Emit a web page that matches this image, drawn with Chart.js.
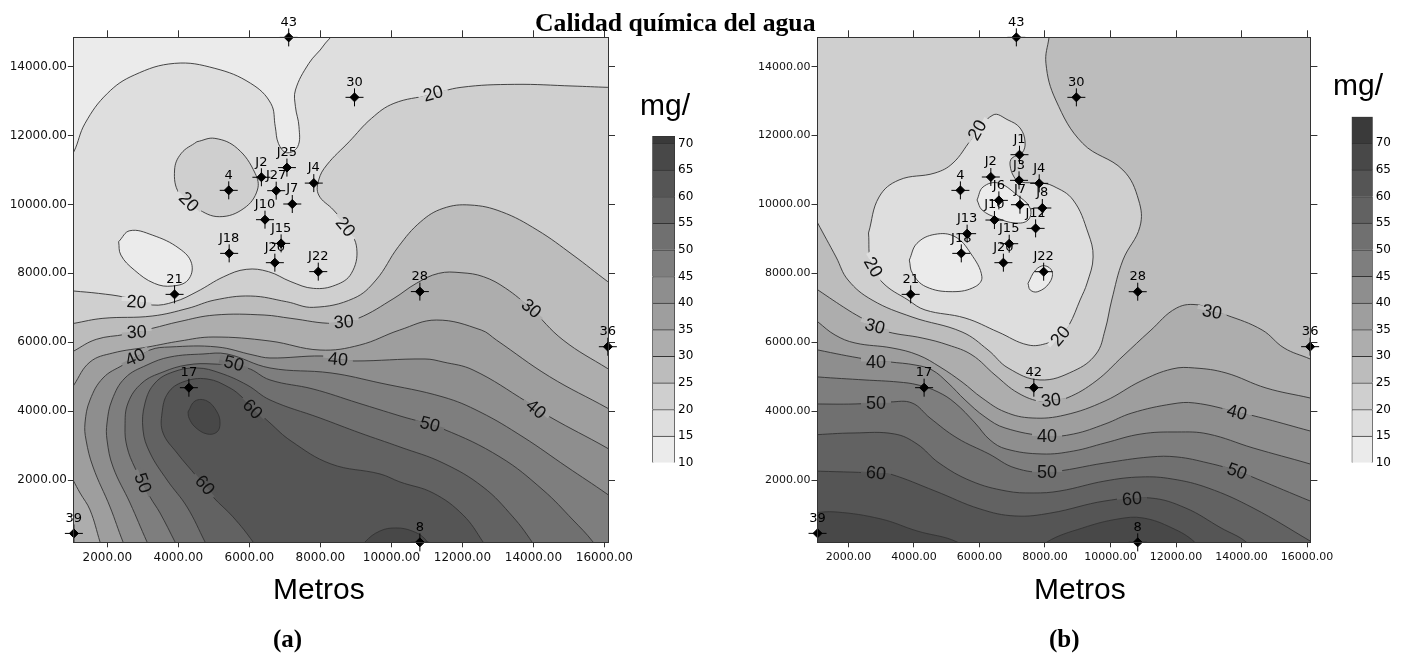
<!DOCTYPE html>
<html>
<head>
<meta charset="utf-8">
<title>Calidad química del agua</title>
<script src="https://cdn.jsdelivr.net/npm/chart.js@4"></script>
<style>
    html, body { margin: 0; padding: 0; background: #fff; }
    body { width: 1404px; height: 662px; position: relative; overflow: hidden; }
    canvas { position: absolute; top: 0; }
    .txt { position: absolute; white-space: nowrap; color: #000; line-height: 1; }
    .sans { font-family: "Liberation Sans", Arial, sans-serif; font-size: 30px; }
    .serif { font-family: "Liberation Serif", "Times New Roman", serif; font-weight: bold; }
</style>
</head>
<body>
<canvas id="mapA" width="702" height="662" style="left:0"></canvas>
<canvas id="mapB" width="702" height="662" style="left:702px"></canvas>
<canvas id="barA" width="60" height="350" style="left:640px;top:125px"></canvas>
<canvas id="barB" width="60" height="375" style="left:1340px;top:100px"></canvas>

<div class="txt serif" style="left:535px;top:10px;font-size:25.7px">Calidad química del agua</div>
<div class="txt sans" style="left:273px;top:574px">Metros</div>
<div class="txt sans" style="left:1034px;top:574px">Metros</div>
<div class="txt sans" style="left:640px;top:90px">mg/</div>
<div class="txt sans" style="left:1333px;top:70px">mg/</div>
<div class="txt serif" style="left:273px;top:626px;font-size:25px">(a)</div>
<div class="txt serif" style="left:1049px;top:626px;font-size:25px">(b)</div>

<script>
// Axis ranges and ticks (metres)
const xMin = 1056, xMax = 16102, yMin = 192, yMax = 14853;
const xTicks = [2000, 4000, 6000, 8000, 10000, 12000, 14000, 16000];
const yTicks = [2000, 4000, 6000, 8000, 10000, 12000, 14000];

// Legend
const barTicks = [10, 15, 20, 25, 30, 35, 40, 45, 50, 55, 60, 65, 70];
const barTopA = 71.4;
const barTopB = 75;

// Grey of each 5 mg band, 10-15 first
const bandGrey = ['#ebebeb', '#dedede', '#cfcfcf', '#bcbcbc', '#adadad', '#9e9e9e', '#8e8e8e',
    '#7e7e7e', '#707070', '#626262', '#555555', '#484848', '#3a3a3a'];

// Panel (a) contours. Open lines run a little past the frame.
const a15top = [[865,11290],[1055,11532],[1370,12355],[2000,13225],[2757,13758],[3892,14096],[5027,13951],[6036,13516],[6603,12935],[6729,12258],[6817,11774],[7044,11503],[7360,11677],[7397,12258],[7297,12838],[7297,13322],[7675,14096],[8102,14630],[8300,15060]];
const a15hole = [[2316,8919],[2631,9238],[3261,9113],[4018,8726],[4371,8290],[4270,7806],[3829,7632],[3324,7709],[2757,8097],[2379,8532],[2316,8919]];
const a20blob = [[4522,11822],[5027,11919],[5657,11629],[6162,10903],[6225,10419],[5846,9887],[5153,9645],[4522,9887],[4018,10322],[3892,11000],[4081,11484],[4522,11822]];
const a20 = [[16313,13400],[16098,13400],[15115,13438],[13476,13487],[11962,13400],[11080,13177],[10071,12935],[9440,12500],[8810,11822],[8179,11145],[7952,10709],[7952,10274],[8368,9839],[8747,9354],[9024,8726],[8873,8000],[8432,7661],[7801,7564],[7170,7758],[6540,8048],[5910,8116],[5279,7903],[4522,7468],[3892,7177],[3261,7081],[2505,7303],[1748,7419],[1055,7487],[802,7516]];
const a25 = [[16313,7613],[16098,7758],[15115,8532],[14106,9258],[13097,9790],[12215,9984],[11458,9887],[10827,9500],[10197,8774],[9566,7806],[8936,7274],[7801,7013],[7044,7177],[6036,7342],[5027,7226],[4270,6984],[3261,6761],[1874,6694],[1055,6548],[802,6500]];
const a30 = [[16313,5116],[16098,5232],[14837,6064],[13917,6984],[13223,7564],[12593,7903],[11962,8019],[11332,8000],[10701,7709],[10071,7274],[9062,6693],[8368,6548],[7170,6693],[6414,6790],[5027,6790],[4018,6597],[3261,6403],[2505,6229],[1685,6084],[1055,5745],[802,5580]];
const a35 = [[16313,3935],[16098,4081],[14459,5000],[12958,6064],[12530,6355],[11269,6645],[10235,6355],[9112,5919],[7990,5774],[6578,6035],[4976,6152],[4043,6035],[3135,5861],[2152,5687],[1509,5426],[1055,4758],[865,4420]];
const a35corner = [[947,2176],[1031,2002],[1229,1624],[1510,1131],[1792,202],[1877,-89]];
const a40 = [[16356,2727],[16074,2931],[14469,3830],[13821,4266],[12300,5195],[11454,5427],[10947,5514],[8947,5456],[8496,5514],[8046,5601],[6581,5543],[6102,5630],[5088,5863],[3764,5863],[3201,5775],[2440,5340],[1877,4963],[1510,4324],[1369,3656],[1398,3163],[1595,2379],[2074,1218],[2440,202],[2581,-89]];
const a45 = [[16356,1363],[16074,1595],[14947,2379],[13708,3250],[12497,3976],[11454,4411],[9680,4818],[8299,5108],[6581,5253],[5370,5659],[4694,5659],[3764,5572],[3116,5340],[2496,4963],[2130,4324],[1989,3656],[1989,3163],[2158,2379],[2637,1334],[3116,202],[3257,-89]];
const a50 = [[15821,-89],[15680,202],[15116,840],[14271,1711],[13060,2669],[11454,3482],[10243,3860],[9060,4237],[7792,4643],[6581,4905],[5933,5253],[4975,5369],[4243,5340],[3567,5137],[2975,4818],[2581,4237],[2496,3540],[2553,2959],[2778,2350],[3201,1508],[3482,1044],[3905,202],[4046,-89]];
const a55 = [[14103,-89],[13961,202],[13426,928],[12581,1798],[11454,2495],[10243,2959],[9116,3366],[7989,3801],[6581,4324],[5933,4760],[5172,5108],[4524,5253],[3848,5137],[3342,4818],[3060,4237],[3003,3453],[3201,2785],[3679,2002],[4243,1218],[4750,202],[4891,-89]];
const a60 = [[12722,-89],[12581,202],[12018,986],[11173,1624],[10243,1943],[9680,2176],[8299,2466],[7172,3134],[6581,3656],[5820,4382],[5454,4672],[4806,4934],[4130,4847],[3708,4527],[3539,3947],[3567,3366],[3961,2785],[4525,2089],[4975,1508],[5539,928],[6102,202],[6243,-89]];
const a65hole = [[4271,3976],[4468,4295],[4806,4295],[5088,3976],[5172,3656],[5088,3395],[4806,3337],[4468,3540],[4299,3801],[4271,3976]];
const a65low = [[9116,-89],[9257,202],[9680,521],[10130,608],[10581,521],[10947,289],[11144,-89]];

// Panel (b) contours
const b25 = [[8165,15064],[8124,14851],[8029,14096],[8329,13032],[9150,11774],[10380,10999],[10858,10129],[10899,9355],[10380,8387],[10038,7226],[9834,6356],[9559,5659],[8875,5166],[7849,4905],[6873,5253],[6262,5775],[5468,6298],[3941,6733],[2720,7227],[1988,7807],[1622,8475],[1056,9471],[858,9840]];
const b20 = [[2613,9172],[2935,10217],[3545,10711],[4644,10914],[5193,11204],[5743,11872],[6415,12598],[6873,12452],[7239,12220],[7392,11814],[7300,11494],[6995,11349],[6934,11146],[7056,10798],[7239,10653],[7850,10624],[8247,10536],[8858,10130],[9316,9172],[9469,8475],[9286,7720],[9072,7227],[8736,6501],[8462,6182],[8095,5979],[7484,5921],[6567,6298],[5559,6704],[4339,6937],[3819,7227],[3056,7720],[2690,8301],[2613,9172]];
const b15mid = [[5926,10130],[6109,10507],[6567,10624],[7147,10275],[7544,9898],[7484,9549],[7087,9462],[6537,9607],[6079,9840],[5926,10130]];
const b15left = [[3859,8387],[4092,8871],[4638,9132],[5254,9064],[5732,8580],[6074,7903],[5869,7613],[5185,7468],[4365,7613],[3955,8000],[3859,8387]];
const b15low = [[7482,7709],[7714,8097],[7988,8222],[8220,8048],[8124,7709],[7782,7468],[7550,7516],[7482,7709]];
const b30 = [[858,7662],[1071,7517],[1987,6937],[2506,6646],[2812,6472],[3209,6298],[4247,6124],[5041,5921],[5773,5630],[6475,5050],[7177,4527],[7910,4266],[8185,4324],[8673,4382],[9559,4876],[10383,5601],[11207,6327],[12019,6995],[12703,7082],[13100,6879],[13527,6792],[14627,6356],[15298,5834],[16092,5514],[16337,5398]];
const b35 = [[858,6762],[1071,6588],[1591,6211],[2202,5979],[3331,5834],[4125,5630],[4797,5282],[5468,4846],[6079,4382],[6781,3976],[7606,3801],[8613,3889],[9834,4295],[10933,4876],[11879,5224],[12566,5253],[13527,5108],[14749,4672],[16092,4382],[16337,4324]];
const b40 = [[858,5834],[1071,5775],[2506,5514],[3270,5427],[4033,5340],[4552,5195],[5041,4818],[5560,4324],[6171,3830],[6781,3511],[8063,3279],[8875,3337],[9834,3627],[10658,3947],[11879,4208],[12566,4237],[13864,3976],[14749,3773],[16092,3424],[16337,3366]];
const b45 = [[858,5021],[1071,4992],[2506,4905],[3514,4846],[4125,4760],[4735,4556],[5254,4237],[5865,3656],[6323,3163],[6812,2902],[7910,2756],[8875,2843],[9834,3076],[10933,3337],[12033,3395],[12979,3337],[14352,2931],[16092,2466],[16337,2379]];
const b50 = [[858,4208],[2202,4208],[3270,4266],[3941,4237],[4491,3801],[5315,3221],[6292,2756],[7086,2350],[8063,2234],[9834,2495],[11207,2669],[12033,2669],[12979,2495],[13864,2263],[14474,2031],[16092,1392],[16337,1305]];
const b55 = [[858,3308],[2171,3366],[3407,3337],[4094,3047],[4765,2495],[5742,1972],[6812,1682],[7636,1624],[8460,1682],[9834,1972],[10933,2089],[11879,2031],[12979,1769],[14352,1189],[16092,231],[16337,86]];
const b60 = [[858,2263],[2842,2205],[3270,2176],[4644,1682],[6017,1160],[7086,956],[8185,1044],[9834,1392],[11207,1479],[12291,1189],[13375,608],[14139,202],[14291,-89]];
const b65left = [[858,1044],[1622,1073],[2995,869],[4094,521],[5315,202],[5468,-89]];
const b65right = [[7910,-89],[8063,202],[9147,608],[10230,869],[10994,898],[11879,608],[12566,202],[12704,-89]];

// Wells: name, x, y
const wellsA = [['43',7107,14850],['30',8961,13110],['4',5418,10410],['J25',7057,11070],['J2',6338,10790],['J27',6755,10400],['J4',7814,10620],['J7',7208,10013],['J10',6439,9558],['J15',6893,8870],['J18',5430,8580],['J20',6717,8310],['J22',7940,8050],['21',3892,7390],['28',10802,7470],['36',16098,5870],['17',4295,4680],['39',1055,450],['8',10802,190]];
const wellsB = [['43',7126,14851],['30',8958,13110],['J1',7222,11445],['J2',6347,10797],['J3',7208,10700],['J4',7824,10613],['4',5418,10409],['J6',6593,10119],['J7',7236,9993],['J8',7919,9897],['J10',6457,9548],['J12',7714,9306],['J13',5623,9152],['J15',6908,8861],['J18',5445,8580],['J20',6730,8310],['J22',7960,8048],['21',3900,7390],['28',10831,7467],['36',16094,5871],['17',4310,4681],['42',7660,4681],['39',1057,452],['8',10831,190]];

// Contour labels: value, x, y, rotation
const labelsA = [[20,11173,13227,-15],[20,4299,10081,45],[20,8711,9355,50],[20,2820,7178,3],[30,2826,6307,-3],[30,8660,6597,-5],[30,13945,6986,40],[40,2778,5572,-25],[50,5567,5389,15],[60,6094,4063,45],[40,8496,5514,5],[50,11088,3627,15],[40,14074,4063,40],[50,3003,1914,70],[60,4750,1856,50]];
const labelsB = [[20,5926,12162,-60],[20,2766,8185,60],[20,8462,6182,-50],[30,2812,6472,15],[30,13100,6887,10],[30,8185,4324,-8],[40,2842,5436,0],[50,2842,4237,0],[60,2842,2213,5],[40,8063,3279,0],[50,8063,2234,0],[60,10658,1459,-5],[40,13864,3976,15],[50,13864,2263,20]];

// Corners far outside the frame, used to close the open lines into fillable shapes
const far = { TL: [-40000, 60000], TR: [60000, 60000], BR: [60000, -40000], BL: [-40000, -40000] };

function contour(points, band, corners) {
    return {
        data: points.concat(corners.map(c => far[c])),
        showLine: true,
        fill: 'shape',
        backgroundColor: bandGrey[band],
        borderColor: '#333',
        borderWidth: 0.9,
        tension: 0.4,
        pointRadius: 0
    };
}

function wellMarks(wells, style, radius, width) {
    return {
        data: wells.map(w => [w[1], w[2]]),
        showLine: false,
        clip: false,
        pointStyle: style,
        pointRadius: radius,
        pointBorderWidth: width,
        pointBorderColor: '#000',
        pointBackgroundColor: '#000'
    };
}

function axis(position, ticks, size, showLabels, fontSize, tickLength, padding) {
    const horizontal = position === 'top' || position === 'bottom';
    return {
        type: 'linear',
        position: position,
        min: horizontal ? xMin : yMin,
        max: horizontal ? xMax : yMax,
        afterBuildTicks: s => { s.ticks = ticks.map(v => ({ value: v })); },
        afterFit: s => { if (horizontal) s.height = size; else s.width = size; },
        border: { color: '#333', width: 1, z: 2 },
        grid: { drawOnChartArea: false, color: '#333', tickLength: tickLength },
        ticks: {
            display: showLabels,
            autoSkip: false,
            maxRotation: 0,
            padding: padding,
            color: '#111',
            font: { family: 'DejaVu Sans', size: fontSize },
            callback: v => v.toFixed(2)
        }
    };
}

// Grey just off the contour line, so the gap under a label blends into both bands
function greyAt(ctx, x, y) {
    const p = ctx.getImageData(Math.round(x), Math.round(y), 1, 1).data;
    return 'rgb(' + p[0] + ',' + p[1] + ',' + p[2] + ')';
}

function drawMap(id, baseBand, shapes, wells, labels, leftWidth, rightWidth, fontSize) {
    const datasets = shapes.concat([wellMarks(wells, 'rectRot', 4.5, 1), wellMarks(wells, 'cross', 9, 1)]);
    datasets.forEach((d, i) => { d.order = datasets.length - i; });

    new Chart(document.getElementById(id), {
        type: 'scatter',
        data: { datasets: datasets },
        options: {
            responsive: false,
            animation: false,
            events: [],
            elements: { line: { capBezierPoints: false } },
            layout: { padding: 0 },
            plugins: { legend: { display: false }, tooltip: { enabled: false } },
            scales: {
                x: axis('bottom', xTicks, 662 - 542.3, true, fontSize, 5, 3),
                x2: axis('top', xTicks, 37.3, false, fontSize, 7, 1),
                y: axis('left', yTicks, leftWidth, true, fontSize, 6, 1),
                y2: axis('right', yTicks, rightWidth, false, fontSize, 7, 1)
            }
        },
        plugins: [{
            id: 'mapExtras',
            beforeDatasetsDraw(chart) {
                const a = chart.chartArea;
                chart.ctx.fillStyle = bandGrey[baseBand];
                chart.ctx.fillRect(a.left, a.top, a.width, a.height);
            },
            afterDatasetsDraw(chart) {
                const ctx = chart.ctx, sx = chart.scales.x, sy = chart.scales.y;
                ctx.save();
                ctx.textAlign = 'center';
                ctx.textBaseline = 'middle';
                // Contour labels break the line they sit on
                labels.forEach(l => {
                    const px = sx.getPixelForValue(l[1]), py = sy.getPixelForValue(l[2]);
                    const angle = l[3] * Math.PI / 180;
                    const above = greyAt(ctx, px + 7 * Math.sin(angle), py - 7 * Math.cos(angle));
                    const below = greyAt(ctx, px - 7 * Math.sin(angle), py + 7 * Math.cos(angle));
                    ctx.save();
                    ctx.translate(px, py);
                    ctx.rotate(angle);
                    ctx.font = '18px "Liberation Sans"';
                    const w = ctx.measureText(String(l[0])).width + 10;
                    ctx.fillStyle = above;
                    ctx.fillRect(-w / 2, -4.5, w, 4.5);
                    ctx.fillStyle = below;
                    ctx.fillRect(-w / 2, 0, w, 4.5);
                    ctx.fillStyle = '#111';
                    ctx.fillText(String(l[0]), 0, 1);
                    ctx.restore();
                });
                ctx.font = '13px "DejaVu Sans"';
                ctx.fillStyle = '#000';
                wells.forEach(w => {
                    ctx.fillText(w[0], sx.getPixelForValue(w[1]), sy.getPixelForValue(w[2]) - 15);
                });
                ctx.restore();
            }
        }]
    });
}

function drawLegend(id, top, padLeft, axisWidth, padTop, padBottom) {
    const edges = barTicks.concat([top]);
    new Chart(document.getElementById(id), {
        type: 'bar',
        data: {
            labels: [''],
            datasets: bandGrey.map((c, i) => ({
                data: [[edges[i], edges[i + 1]]],
                backgroundColor: c,
                borderColor: '#333',
                borderWidth: 1,
                grouped: false,
                barPercentage: 1,
                categoryPercentage: 1
            }))
        },
        options: {
            responsive: false,
            animation: false,
            events: [],
            layout: { padding: { left: padLeft, top: padTop, bottom: padBottom, right: 0 } },
            plugins: { legend: { display: false }, tooltip: { enabled: false } },
            scales: {
                x: { display: false },
                y: {
                    position: 'right',
                    min: barTicks[0],
                    max: top,
                    afterBuildTicks: s => { s.ticks = barTicks.map(v => ({ value: v })); },
                    afterFit: s => { s.width = axisWidth; },
                    border: { display: false },
                    grid: { display: false, drawTicks: false },
                    ticks: { padding: 3, color: '#000', font: { family: 'DejaVu Sans', size: 12 } }
                }
            }
        }
    });
}

drawMap('mapA', 1, [
    contour(a15top, 0, ['TL']),
    contour(a15hole, 0, []),
    contour(a20blob, 2, []),
    contour(a20, 2, ['BL', 'BR']),
    contour(a25, 3, ['BL', 'BR']),
    contour(a30, 4, ['BL', 'BR']),
    contour(a35, 5, ['BL', 'BR']),
    contour(a35corner, 4, ['BL']),
    contour(a40, 6, ['BR']),
    contour(a45, 7, ['BR']),
    contour(a50, 8, []),
    contour(a55, 9, []),
    contour(a60, 10, []),
    contour(a65hole, 11, []),
    contour(a65low, 11, [])
], wellsA, labelsA, 73.9, 94, 12);

drawMap('mapB', 3, [
    contour(b25, 2, ['TL']),
    contour(b20, 1, []),
    contour(b15mid, 0, []),
    contour(b15left, 0, []),
    contour(b15low, 0, []),
    contour(b30, 4, ['BR', 'BL']),
    contour(b35, 5, ['BR', 'BL']),
    contour(b40, 6, ['BR', 'BL']),
    contour(b45, 7, ['BR', 'BL']),
    contour(b50, 8, ['BR', 'BL']),
    contour(b55, 9, ['BR', 'BL']),
    contour(b60, 10, ['BL']),
    contour(b65left, 11, ['BL']),
    contour(b65right, 11, [])
], wellsB, labelsB, 115.5, 93.6, 11);

drawLegend('barA', barTopA, 12.3, 25, 11, 12.3);
drawLegend('barB', barTopB, 11.6, 27.3, 16.7, 12.3);
</script>
</body>
</html>
